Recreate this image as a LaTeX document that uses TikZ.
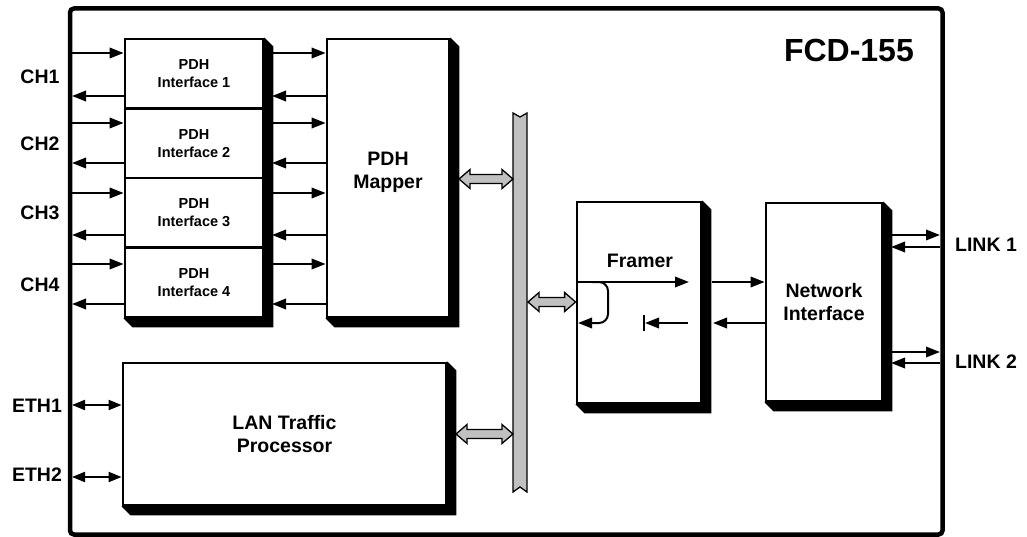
\documentclass[tikz,border=0pt]{standalone}
\usepackage{fontspec}
\setmainfont{Liberation Sans}
\usetikzlibrary{arrows.meta,calc}
\pgfdeclarelayer{background}
\pgfsetlayers{background,main}
\definecolor{busgray}{HTML}{C0C0C0}
\tikzset{
  blk/.style={draw, line width=2.8pt, fill=white, align=center, inner sep=0pt,
    font=\bfseries\fontsize{19.5}{23}\selectfont},
  pdhbox/.style={blk, minimum width=138pt, minimum height=69.5pt,
    font=\bfseries\fontsize{14.5}{18}\selectfont},
  lbl/.style={inner sep=0pt, align=center, font=\bfseries\fontsize{19.5}{23}\selectfont},
  arr/.style={line width=2pt, -{Triangle[length=14pt,width=10.5pt]}},
  darr/.style={line width=2pt, {Triangle[length=13pt,width=10pt]}-{Triangle[length=13pt,width=10pt]}},
  fat/.style={fill=busgray, draw=black, line width=1.3pt, line join=miter},
  shade/.style={fill=black},
}
\newcommand\fatarrow[2]{%
  \filldraw[fat] let \p1=(#1), \p2=(#2) in
    (\x1,\y1) -- (\x1+11pt,\y1+9.5pt) -- (\x1+11pt,\y1+4.5pt) -- (\x2-11pt,\y1+4.5pt)
    -- (\x2-11pt,\y1+9.5pt) -- (\x2,\y1) -- (\x2-11pt,\y1-9.5pt) -- (\x2-11pt,\y1-4.5pt)
    -- (\x1+11pt,\y1-4.5pt) -- (\x1+11pt,\y1-9.5pt) -- cycle;}
\newcommand\boxshade[3]{% ne, se, sw
  \begin{pgfonlayer}{background}
  \fill[shade] (#1) -- ++(9,9) -- ($(#2)+(9,9)$) -- ($(#3)+(9,9)$) -- (#3) -- cycle;
  \end{pgfonlayer}}
\begin{document}
\begin{tikzpicture}[x=1pt,y=-1pt]
\useasboundingbox (0,0) rectangle (1027,537);

% outer frame
\draw[line width=4.5pt, rounded corners=4pt] (70,8.5) rectangle (942.5,534.5);

% title
\node[lbl, anchor=east, font=\bfseries\fontsize{32}{34}\selectfont] (title) at (914,50) {FCD-155};

% PDH interfaces
\node[pdhbox] (s1) at (194,73.75) {PDH\\Interface 1};
\node[pdhbox] (s2) at (194,143.25) {PDH\\Interface 2};
\node[pdhbox] (s3) at (194,212.75) {PDH\\Interface 3};
\node[pdhbox] (s4) at (194,282.25) {PDH\\Interface 4};
\boxshade{s1.north east}{s4.south east}{s4.south west}

% PDH mapper
\node[blk, minimum width=122pt, minimum height=278pt] (map) at (388,178) {};
\node[lbl] (maptxt) at (388,172) {PDH\\Mapper};
\boxshade{map.north east}{map.south east}{map.south west}

% LAN traffic processor
\node[blk, minimum width=323pt, minimum height=142pt] (lan) at (284.5,434) {LAN Traffic\\Processor};
\boxshade{lan.north east}{lan.south east}{lan.south west}

% Framer
\node[blk, minimum width=124pt, minimum height=201pt] (fr) at (639,302.5) {};
\node[lbl] (frtxt) at (640,261) {Framer};
\boxshade{fr.north east}{fr.south east}{fr.south west}

% Network interface
\node[blk, minimum width=116pt, minimum height=198pt] (nw) at (824,302) {Network\\Interface};
\boxshade{nw.north east}{nw.south east}{nw.south west}

% bus
\node[minimum width=14pt, minimum height=379pt, inner sep=0pt, outer sep=0pt] (bus) at (520,302.5) {};
\filldraw[fill=busgray, line width=1.3pt] (bus.north west) -- ($(bus.north)+(0,4)$) -- (bus.north east)
  -- (bus.south east) -- ($(bus.south)+(0,-5)$) -- (bus.south west) -- cycle;

% gray double arrows
\coordinate (g1) at (459,179);
\coordinate (g2) at (528,302);
\coordinate (g3) at (456,434);
\fatarrow{g1}{g1 -| bus.west}
\fatarrow{g2}{g2 -| fr.west}
\fatarrow{g3}{g3 -| bus.west}

% channel arrows and labels
\foreach \i/\a/\b/\c in {1/53/96/77, 2/123/163/144, 3/193/235/213, 4/264/304/285}{
  \coordinate (chin\i) at (72,\a);
  \coordinate (chout\i) at (72,\b);
  \draw[arr] (chin\i) -- (chin\i -| s\i.west);
  \draw[arr] (chout\i -| s\i.west) -- (chout\i);
  \coordinate (mo\i) at (272,\a);
  \coordinate (mi\i) at (272,\b);
  \draw[arr] (mo\i) -- (mo\i -| map.west);
  \draw[arr] (mi\i -| map.west) -- (mi\i);
  \node[lbl] (ch\i) at (40,\c) {CH\i};
}

% Ethernet
\coordinate (e1) at (72,405);
\coordinate (e2) at (72,477);
\draw[darr] (e1) -- (e1 -| lan.west);
\draw[darr] (e2) -- (e2 -| lan.west);
\node[lbl] (eth1) at (37,406) {ETH1};
\node[lbl] (eth2) at (37,475) {ETH2};

% Framer internals
\coordinate (fa) at (578,282);
\coordinate (fb) at (689,282);
\draw[arr] (fa) -- (fb);
\coordinate (fc) at (592,282);
\coordinate (fcd) at (608,323);
\coordinate (fce) at (578,323);
\draw[arr, rounded corners=9pt] (fc) -| (fcd) -- (fce);
\coordinate (fd) at (688,323);
\coordinate (fe) at (645,323);
\draw[arr] (fd) -- (fe);
\coordinate (fbar1) at (644,315);
\coordinate (fbar2) at (644,331);
\draw[line width=2pt] (fbar1) -- (fbar2);

% Framer <-> Network
\coordinate (nf1) at (712,282);
\coordinate (nf2) at (713,323);
\draw[arr] (nf1) -- (nf1 -| nw.west);
\draw[arr] (nf2 -| nw.west) -- (nf2);

% Links
\coordinate (n1o) at (891,235);
\coordinate (l1o) at (940,235);
\coordinate (n1i) at (891,247);
\coordinate (l1i) at (940,247);
\coordinate (n2o) at (891,352);
\coordinate (l2o) at (940,352);
\coordinate (n2i) at (891,363);
\coordinate (l2i) at (940,363);
\draw[arr] (n1o) -- (l1o);
\draw[arr] (l1i) -- (n1i);
\draw[arr] (n2o) -- (l2o);
\draw[arr] (l2i) -- (n2i);
\node[lbl] (link1) at (986,245) {LINK 1};
\node[lbl] (link2) at (986,362) {LINK 2};
\end{tikzpicture}
\end{document}
